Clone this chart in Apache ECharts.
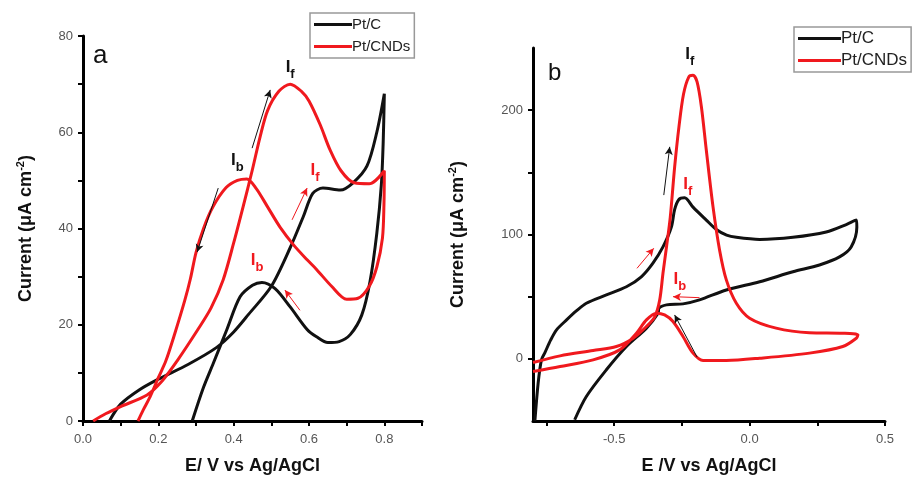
<!DOCTYPE html>
<html>
<head>
<meta charset="utf-8">
<script src="https://cdn.jsdelivr.net/npm/echarts@6.0.0/dist/echarts.min.js"></script>
<style>
  html, body { margin: 0; padding: 0; background: #fff; }
  #cv-container { width: 912px; height: 479px; }
</style>
</head>
<body>
<div id="cv-container"></div>
<script>
// panel a : [E (V), current (uA cm-2)] in scan order, forward then reverse
var aPtC = [
  [0.07,0],[0.10,3.5],[0.15,6.5],[0.20,8.7],[0.28,11.8],[0.355,15.3],[0.40,18.5],[0.44,22.2],
  [0.50,28],[0.55,36],[0.585,42.5],[0.61,47.3],[0.637,48.4],[0.683,48],[0.717,49.5],[0.754,53],
  [0.78,60],[0.80,68],
  [0.797,58],[0.792,49],[0.78,39],[0.762,29],[0.74,22],[0.71,18],[0.68,16.5],[0.65,16.3],
  [0.62,17.5],[0.595,19],[0.55,23.7],[0.51,27.5],[0.475,28.8],[0.45,28.2],[0.417,25.8],
  [0.382,19],[0.346,12],[0.32,7],[0.29,0]
];
var aPtCNDs = [
  [0.027,0],[0.06,1.5],[0.10,3],[0.17,5.4],[0.21,8.3],[0.25,12.5],[0.305,19],[0.34,23.5],
  [0.372,29.3],[0.40,37],[0.425,44.5],[0.449,52],[0.47,59],[0.49,64.5],[0.52,68.5],[0.55,70],
  [0.58,68.5],[0.60,66.5],[0.63,61.5],[0.655,56.5],[0.685,52],[0.72,49.5],[0.76,49.3],[0.80,52],
  [0.799,45],[0.795,38],[0.78,32],[0.76,28],[0.73,25.5],[0.70,25.3],[0.66,28],[0.62,31.5],
  [0.595,33.5],[0.56,36.5],[0.523,40.3],[0.49,44.5],[0.46,48.3],[0.435,50.3],[0.41,50],
  [0.38,48.5],[0.345,44.5],[0.32,40],[0.30,35],[0.285,29.5],[0.27,25],[0.245,18.5],
  [0.22,12.5],[0.20,9],[0.178,5],[0.16,2.3],[0.146,0]
];
// panel b
var bPtC = [
  [-0.793,-50],[-0.781,-19.5],[-0.769,-1],[-0.756,5],[-0.735,15],[-0.713,23.3],[-0.676,31.3],
  [-0.64,38.5],[-0.603,44.7],[-0.529,51.4],[-0.455,58],[-0.40,66],[-0.357,77],[-0.32,90],
  [-0.289,106],[-0.277,120],[-0.262,128],[-0.24,129.5],[-0.209,122],[-0.16,111.6],[-0.123,104],
  [-0.085,99.5],[-0.049,97.7],[0.037,96],[0.16,97.7],[0.283,102],[0.357,108],[0.394,111.6],
  [0.396,106],[0.375,90],[0.332,82],[0.258,75.5],[0.16,70],[0.037,62],[-0.086,55.4],
  [-0.185,47.4],[-0.246,44.2],[-0.307,43.4],[-0.335,40.7],[-0.338,36.7],[-0.381,24.7],
  [-0.455,9.9],[-0.529,-8.8],[-0.603,-30.3],[-0.646,-49]
];
var bPtCNDs = [
  [-0.80,-3],[-0.70,2.4],[-0.578,6.7],[-0.492,9.9],[-0.43,16.6],[-0.381,26],[-0.35,34],
  [-0.332,47.4],[-0.32,68.8],[-0.307,90],[-0.293,114],[-0.277,154],[-0.261,186.6],[-0.244,213],
  [-0.224,227],[-0.209,228],[-0.194,222.7],[-0.178,202.6],[-0.16,168],[-0.135,122],
  [-0.111,87.6],[-0.086,63.5],[-0.049,44.7],[0.0,32.7],[0.098,24.7],[0.221,21],[0.344,20.6],
  [0.40,19.3],
  [0.394,16.6],[0.344,9.9],[0.221,4.6],[0.037,0.5],[-0.086,-1.3],[-0.172,-1.3],[-0.209,4.6],
  [-0.246,18],[-0.283,30],[-0.314,35.3],[-0.344,36.7],[-0.381,31.3],[-0.418,20.6],
  [-0.48,7.2],[-0.578,-0.8],[-0.70,-6.2],[-0.80,-10.2]
];

// ticks and labels
var aXTicks = [0,0.1,0.2,0.3,0.4,0.5,0.6,0.7,0.8,0.9];
var aXLabels = [0,0.2,0.4,0.6,0.8];
var aYTicks = [0,10,20,30,40,50,60,70,80];
var aYLabels = [0,20,40,60,80];
var bXTicks = [-0.75,-0.5,-0.25,0,0.25,0.5];
var bXLabels = [-0.5,0,0.5];
var bYTicks = [0,50,100,150,200];
var bYLabels = [0,100,200];

// I_f / I_b tags [E, I, subscript] and arrows [E1, I1, E2, I2]
var aBlackTags = [[0.55,73,'f'],[0.41,53.6,'b']];
var aRedTags = [[0.616,51.5,'f'],[0.462,32.8,'b']];
var aBlackArrows = [[0.449,56.7,0.497,68.8],[0.359,48.4,0.303,35.1]];
var aRedArrows = [[0.555,41.8,0.595,48.4],[0.576,23,0.536,27.2]];
var bBlackTags = [[-0.221,242.6,'f']];
var bRedTags = [[-0.228,138,'f'],[-0.258,62,'b']];
var bBlackArrows = [[-0.317,131.7,-0.295,170.5],[-0.194,1.4,-0.277,35.3]];
var bRedArrows = [[-0.416,72.8,-0.354,88.9],[-0.185,49.2,-0.283,50]];

var BLACK = '#111';
var RED = '#f0191e';

function tags(list, color) {
  return {
    silent: true,
    symbol: 'circle',
    symbolSize: 0,
    data: list.map(function (t) {
      return {
        coord: [t[0], t[1]],
        label: {
          show: true,
          position: 'inside',
          formatter: '{i|I}{s|' + t[2] + '}',
          rich: {
            i: { fontSize: 17, fontWeight: 'bold', color: color, fontFamily: 'Arial', padding: [0, 0, 5, 0], verticalAlign: 'bottom' },
            s: { fontSize: 13, fontWeight: 'bold', color: color, fontFamily: 'Arial', verticalAlign: 'bottom' }
          }
        }
      };
    })
  };
}

function arrows(list, color) {
  return {
    silent: true,
    symbol: ['none', 'arrow'],
    symbolSize: [6, 8],
    label: { show: false },
    lineStyle: { color: color, width: 1, type: 'solid' },
    data: list.map(function (a) {
      return [{ coord: [a[0], a[1]] }, { coord: [a[2], a[3]] }];
    })
  };
}

function curve(name, data, color, idx, tagList, arrowList) {
  return {
    name: name,
    type: 'line',
    xAxisIndex: idx,
    yAxisIndex: idx,
    data: data,
    smooth: 0.3,
    symbol: 'none',
    showSymbol: false,
    lineStyle: { color: color, width: 3 },
    itemStyle: { color: color },
    markPoint: tags(tagList, color),
    markLine: arrows(arrowList, color)
  };
}

var nameRich = {
  base: { fontSize: 18, fontWeight: 'bold', color: '#111', fontFamily: 'Arial', verticalAlign: 'bottom' },
  sup: { fontSize: 11, fontWeight: 'bold', color: '#111', fontFamily: 'Arial', padding: [0, 0, 9, 0], verticalAlign: 'bottom' }
};

function xAx(idx, min, max, ticks, labels, name) {
  return {
    type: 'value', gridIndex: idx, min: min, max: max,
    name: name, nameLocation: 'middle', nameGap: 36,
    nameTextStyle: { fontSize: 18, fontWeight: 'bold', color: '#111', fontFamily: 'Arial' },
    axisLine: { show: true, onZero: false, lineStyle: { color: '#000', width: 3 } },
    axisTick: { show: true, customValues: ticks, length: 5, lineStyle: { color: '#000', width: 2 } },
    axisLabel: { customValues: labels, margin: 12, fontSize: 13, color: '#555', fontFamily: 'Arial',
      formatter: function (v) { return v.toFixed(1); } },
    splitLine: { show: false }
  };
}

function yAx(idx, min, max, ticks, labels, gap) {
  return {
    type: 'value', gridIndex: idx, min: min, max: max,
    name: '{base|Current (μA cm}{sup|-2}{base|)}', nameLocation: 'middle', nameGap: gap,
    nameTextStyle: { rich: nameRich },
    axisLine: { show: true, onZero: false, lineStyle: { color: '#000', width: 3 } },
    axisTick: { show: true, customValues: ticks, length: 5, lineStyle: { color: '#000', width: 2 } },
    axisLabel: { customValues: labels, margin: 10, fontSize: 13, color: '#555', fontFamily: 'Arial' },
    splitLine: { show: false }
  };
}

function legendBox(left, top, w, fs) {
  return {
    orient: 'vertical', left: left, top: top,
    data: ['Pt/C', 'Pt/CNDs'],
    icon: 'rect',
    backgroundColor: '#fff',
    borderColor: '#999', borderWidth: 1.5, borderRadius: 0,
    padding: [3, 4], itemWidth: w, itemHeight: 3, itemGap: 5,
    textStyle: { fontSize: fs, lineHeight: 17, color: '#222', fontFamily: 'Arial', padding: [0, 0, 0, -5] }
  };
}

var dom = document.getElementById('cv-container');
var myChart = echarts.init(dom, null, { renderer: 'canvas' });
var option = {
  animation: false,
  backgroundColor: '#fff',
  title: [
    { text: 'a', left: 88, top: 38, textStyle: { fontSize: 26, fontWeight: 'normal', color: '#111', fontFamily: 'Arial' } },
    { text: 'b', left: 543, top: 56, textStyle: { fontSize: 24, fontWeight: 'normal', color: '#111', fontFamily: 'Arial' } }
  ],
  legend: [legendBox(310, 13, 38, 15), legendBox(794, 27, 43, 17)],
  grid: [
    { left: 83, top: 36, width: 339, height: 385, containLabel: false, outerBoundsMode: 'none' },
    { left: 533, top: 48, width: 352, height: 373, containLabel: false, outerBoundsMode: 'none' }
  ],
  xAxis: [
    xAx(0, 0, 0.9, aXTicks, aXLabels, 'E/ V vs Ag/AgCl'),
    xAx(1, -0.8, 0.5, bXTicks, bXLabels, 'E /V vs Ag/AgCl')
  ],
  yAxis: [
    yAx(0, 0, 80, aYTicks, aYLabels, 48),
    yAx(1, -50, 250, bYTicks, bYLabels, 66)
  ],
  series: [
    curve('Pt/C', aPtC, BLACK, 0, aBlackTags, aBlackArrows),
    curve('Pt/CNDs', aPtCNDs, RED, 0, aRedTags, aRedArrows),
    curve('Pt/C', bPtC, BLACK, 1, bBlackTags, bBlackArrows),
    curve('Pt/CNDs', bPtCNDs, RED, 1, bRedTags, bRedArrows)
  ]
};
if (option && typeof option === 'object') {
  myChart.setOption(option, true);
}
</script>
</body>
</html>
